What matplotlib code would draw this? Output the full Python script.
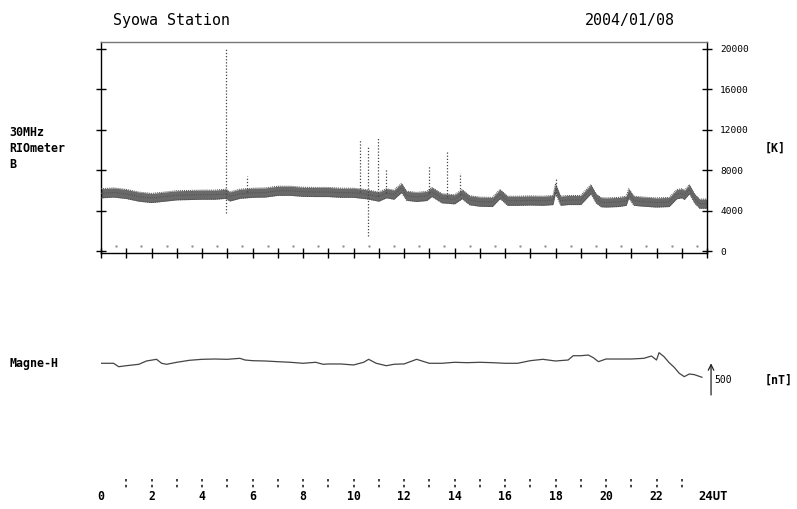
import matplotlib.pyplot as plt

# 30 MHz riometer, centre of the noisy band [K] read at these UT hours
rio_hours = [0, 0.5, 1, 1.5, 2, 2.5, 3, 3.5, 4, 4.5, 4.95, 5.1, 5.5, 6, 6.5,
             7, 7.5, 8, 8.5, 9, 9.5, 10, 10.5, 11, 11.3, 11.6, 11.9, 12.1,
             12.5, 12.9, 13.1, 13.5, 14, 14.3, 14.6, 15, 15.5, 15.8, 16.1,
             16.5, 17, 17.5, 17.9, 18, 18.2, 18.5, 19, 19.1, 19.4, 19.6,
             19.8, 20, 20.5, 20.8, 20.9, 21.1, 21.5, 22, 22.5, 22.8, 23,
             23.1, 23.3, 23.5, 23.7, 24]
rio_centre = [5745, 5820, 5675, 5410, 5280, 5410, 5545, 5575, 5605, 5605,
              5695, 5430, 5695, 5795, 5820, 5990, 5990, 5890, 5870, 5870,
              5795, 5795, 5655, 5410, 5745, 5605, 6270, 5500, 5380, 5480,
              5870, 5250, 5150, 5655, 5055, 4915, 4885, 5675, 5005, 5005,
              5035, 5005, 5080, 6240, 5005, 5080, 5080, 5350, 6150, 5250,
              4865, 4835, 4885, 5005, 5745, 5005, 4915, 4835, 4885, 5655,
              5745, 5575, 6150, 5250, 4720, 4720]
band_half = 450

# isolated spikes (dotted vertical streaks)
spike_hours = [4.97, 5.77, 10.26, 10.59, 10.96, 11.29, 13.0, 13.69, 14.22, 18.0]
spike_top = [20000, 7450, 11000, 10340, 11330, 8210, 8540, 9950, 7720, 7250]
spike_bottom = [3800, 5900, 5900, 1530, 5500, 5800, 5800, 5400, 5600, 5500]

# faint dots near the zero level
zero_dot_hours = [0.6, 1.6, 2.6, 3.6, 4.6, 5.6, 6.6, 7.6, 8.6, 9.6, 10.6, 11.6,
                  12.6, 13.6, 14.6, 15.6, 16.6, 17.6, 18.6, 19.6, 20.6, 21.6,
                  22.6, 23.6]
zero_dot_value = 500

# magnetometer H component, deviation [nT]
magne_hours = [0, 0.5, 0.7, 1, 1.5, 1.8, 2.2, 2.4, 2.6, 3, 3.5, 4, 4.5, 5, 5.5,
               5.7, 6, 6.5, 7, 7.5, 8, 8.5, 8.8, 9, 9.5, 10, 10.4, 10.6, 10.9,
               11.3, 11.6, 11.9, 12, 12.5, 13, 13.5, 14, 14.5, 15, 15.5, 16,
               16.5, 17, 17.5, 18, 18.5, 18.7, 19, 19.3, 19.5, 19.7, 20, 20.5,
               21, 21.5, 21.8, 22, 22.1, 22.3, 22.5, 22.7, 22.9, 23.1, 23.3,
               23.5, 23.8]
magne_nT = [0, 0, -55, -39, -16, 37, 64, 0, -16, 16, 48, 64, 69, 64, 80, 53,
            42, 37, 26, 16, 0, 16, -16, -11, -11, -27, 16, 64, 0, -39, -16,
            -11, -11, 64, 0, 0, 16, 10, 16, 10, 0, 0, 42, 64, 37, 53, 122,
            122, 133, 90, 26, 69, 69, 69, 80, 117, 53, 171, 106, 10, -64,
            -161, -215, -172, -183, -225]

rio_ticks = [0, 4000, 8000, 12000, 16000, 20000]
hour_labels = ['0', '2', '4', '6', '8', '10', '12', '14', '16', '18', '20', '22']

W, H = 797, 509
fig = plt.figure(figsize=(W / 100, H / 100), dpi=100)
mono = 'DejaVu Sans Mono'


def box(x0, y0, x1, y1):
    return [x0 / W, 1 - y1 / H, (x1 - x0) / W, (y1 - y0) / H]


def label(x, y, s, **kw):
    fig.text(x / W, 1 - y / H, s, family=mono, va='center', **kw)


# --- riometer panel
ax = fig.add_axes(box(101, 42, 707, 253.3))
lower = [c - band_half for c in rio_centre]
upper = [c + band_half for c in rio_centre]
ax.fill_between(rio_hours, lower, upper, color='#6a6a6a', lw=0, zorder=2)
ax.plot(rio_hours, rio_centre, color='#555555', lw=0.8, ls=(0, (1, 1)),
        zorder=3)
ax.plot(rio_hours, upper, color='#4a4a4a', lw=0.7, ls=(0, (1, 1)), zorder=3)
ax.plot(rio_hours, lower, color='#4a4a4a', lw=0.7, ls=(0, (1, 1)), zorder=3)
ax.vlines(spike_hours, spike_bottom, spike_top, colors='#444444',
          linestyles=(0, (1, 1.5)), lw=0.9, zorder=2)
ax.plot(zero_dot_hours, [zero_dot_value] * len(zero_dot_hours), ls='none',
        marker='.', ms=1.5, color='#999999')

ax.set_xlim(0, 24)
ax.set_ylim(-180, 20675)
ax.set_xticks(range(25))
ax.set_xticklabels([])
ax.set_yticks(rio_ticks)
ax.set_yticklabels([str(v) for v in rio_ticks], family=mono, fontsize=6.8)
ax.tick_params(axis='y', which='both', direction='inout', length=7, width=1,
               left=True, right=True, labelleft=False, labelright=True, pad=6)
ax.tick_params(axis='x', direction='inout', length=7, width=1)
for s in ax.spines.values():
    s.set_linewidth(1)
ax.spines['top'].set_color('#777777')

# --- magnetometer panel
mx = fig.add_axes(box(101, 330, 707, 400))
mx.plot(magne_hours, magne_nT, color='#444444', lw=0.9)
mx.set_xlim(0, 24)
mx.set_ylim(-591, 536)
mx.axis('off')
mx.annotate('', xy=(24.16, 0), xytext=(24.16, -510),
            arrowprops=dict(arrowstyle='->', lw=0.9, color='#222222',
                            shrinkA=0, shrinkB=0),
            annotation_clip=False)

# --- time axis
tx = fig.add_axes(box(101, 470, 707, 505))
tx.set_xlim(0, 24)
tx.set_ylim(505, 470)
tx.axis('off')
tx.vlines(range(1, 24), 479, 489, colors='#222222', linestyles=(0, (1.5, 2)),
          lw=1.2)
for i, s in enumerate(hour_labels):
    tx.text(2 * i, 496, s, family=mono, fontweight='bold', fontsize=8.3,
            ha='center', va='center')
tx.annotate('24UT', xy=(24, 496), xytext=(-6, 0), textcoords='offset points',
            family=mono, fontweight='bold', fontsize=8.8, ha='left',
            va='center', annotation_clip=False)

# --- texts
label(113, 20, 'Syowa Station', fontsize=10.8)
label(585, 20, '2004/01/08', fontsize=10.8)
label(9, 133, '30MHz', fontsize=8.4, fontweight='bold')
label(9, 149, 'RIOmeter', fontsize=8.4, fontweight='bold')
label(9, 164, 'B', fontsize=8.4, fontweight='bold')
label(765, 148, '[K]', fontsize=8.4, fontweight='bold')
label(9, 364, 'Magne-H', fontsize=8.4, fontweight='bold')
label(714, 380, '500', fontsize=7)
label(765, 380, '[nT]', fontsize=8.4, fontweight='bold')

fig.savefig('out.png', dpi=100)
